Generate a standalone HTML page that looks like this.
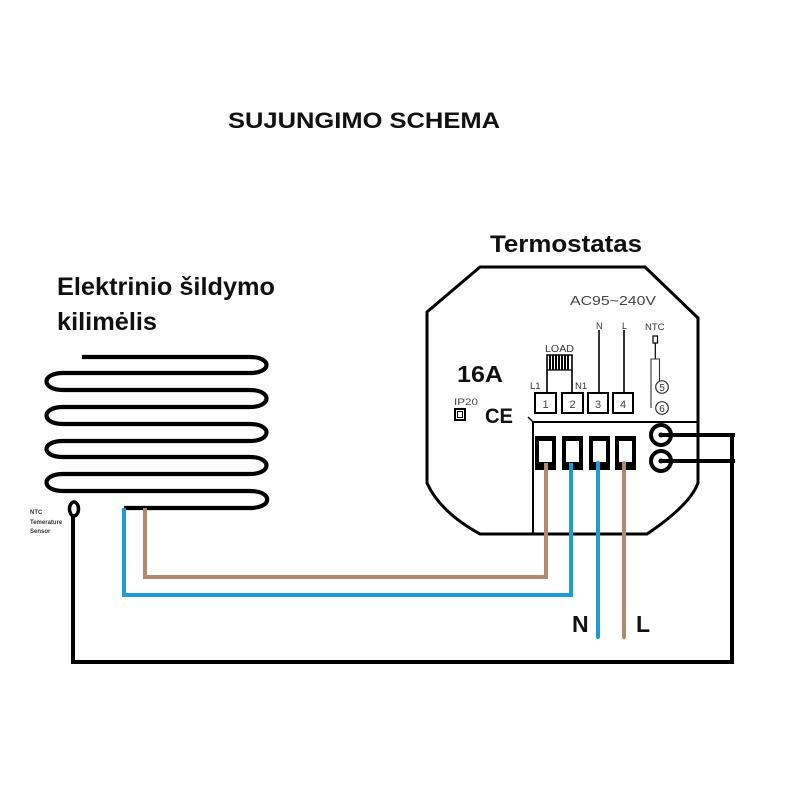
<!DOCTYPE html>
<html>
<head>
<meta charset="utf-8">
<style>
  html, body { margin: 0; padding: 0; background: #fff; }
  svg { display: block; }
  .t { font-family: "Liberation Sans", Arial, sans-serif; }
</style>
</head>
<body>
<svg width="800" height="800" viewBox="0 0 800 800" xmlns="http://www.w3.org/2000/svg">
  <rect width="800" height="800" fill="#fff"/>

  <!-- Titles -->
  <text class="t" x="228" y="128" font-size="22" font-weight="bold" fill="#111" textLength="272" lengthAdjust="spacingAndGlyphs">SUJUNGIMO SCHEMA</text>
  <text class="t" x="490" y="252" font-size="24" font-weight="bold" fill="#111" textLength="152" lengthAdjust="spacingAndGlyphs">Termostatas</text>
  <text class="t" x="57" y="295" font-size="25" font-weight="bold" fill="#111" textLength="218" lengthAdjust="spacingAndGlyphs">Elektrinio šildymo</text>
  <text class="t" x="57" y="330" font-size="25" font-weight="bold" fill="#111" textLength="100" lengthAdjust="spacingAndGlyphs">kilimėlis</text>

  <!-- Heating mat -->
  <path d="M 82 357 H 250 C 272 357 272 373 250 373 H 63 C 41 373 41 390 63 390 H 250 C 272 390 272 407 250 407 H 63 C 41 407 41 424 63 424 H 250 C 272 424 272 441 250 441 H 63 C 41 441 41 457 63 457 H 250 C 272 457 272 474 250 474 H 63 C 41 474 41 491 63 491 H 250 C 273 491 273 508 250 508 H 124"
        fill="none" stroke="#000" stroke-width="4.2" stroke-linejoin="round"/>

  <!-- NTC sensor on mat -->
  <ellipse cx="74" cy="509" rx="4.5" ry="7" fill="none" stroke="#000" stroke-width="3.5"/>
  <text class="t" x="30" y="514" font-size="6" font-weight="bold" fill="#333">NTC</text>
  <text class="t" x="30" y="524" font-size="6" font-weight="bold" fill="#333">Temerature</text>
  <text class="t" x="30" y="533" font-size="6" font-weight="bold" fill="#333">Sensor</text>

  <!-- Black NTC loop wire -->
  <path d="M 73 516 V 662 H 732 V 435" fill="none" stroke="#000" stroke-width="4"/>
  <path d="M 661 435 H 732 M 661 461 H 732" fill="none" stroke="#000" stroke-width="4"/>

  <!-- Thermostat body -->
  <path d="M 480 267 L 645 267 L 698 318 L 698 483 Q 690 505 647 534 L 480 534 Q 440 512 427 483 L 427 312 Z"
        fill="none" stroke="#000" stroke-width="3"/>

  <!-- AC label -->
  <text class="t" x="570" y="305" font-size="13" fill="#444" textLength="86" lengthAdjust="spacingAndGlyphs">AC95~240V</text>

  <!-- N / L terminal labels -->
  <text class="t" x="596" y="329" font-size="9" fill="#333">N</text>
  <text class="t" x="622" y="329" font-size="9" fill="#333">L</text>
  <line x1="599" y1="330" x2="599" y2="393" stroke="#000" stroke-width="1.6"/>
  <line x1="624" y1="330" x2="624" y2="393" stroke="#000" stroke-width="1.6"/>

  <!-- NTC terminals -->
  <text class="t" x="645" y="330" font-size="9.5" fill="#333">NTC</text>
  <rect x="653" y="336" width="4.5" height="7" fill="none" stroke="#000" stroke-width="1.2"/>
  <line x1="655.3" y1="343" x2="655.3" y2="359" stroke="#000" stroke-width="1.2"/>
  <path d="M 651 408 V 359 H 659.5 V 381" fill="none" stroke="#333" stroke-width="1.1"/>
  <circle cx="662" cy="387" r="6.3" fill="#fff" stroke="#333" stroke-width="1.2"/>
  <circle cx="662" cy="408" r="6.3" fill="#fff" stroke="#333" stroke-width="1.2"/>
  <text class="t" x="662" y="391" font-size="10" fill="#333" text-anchor="middle">5</text>
  <text class="t" x="662" y="412" font-size="10" fill="#333" text-anchor="middle">6</text>

  <!-- LOAD -->
  <text class="t" x="545" y="352" font-size="10" fill="#333" textLength="29" lengthAdjust="spacingAndGlyphs">LOAD</text>
  <path d="M 547 393 V 355 H 572 V 393" fill="none" stroke="#000" stroke-width="1.6"/>
  <path d="M 550 355 V 370 M 553 355 V 370 M 556 355 V 370 M 559 355 V 370 M 562 355 V 370 M 565 355 V 370 M 568 355 V 370" stroke="#000" stroke-width="2"/>
  <line x1="547" y1="370" x2="572" y2="370" stroke="#000" stroke-width="1.2"/>
  <text class="t" x="530" y="389" font-size="9.5" fill="#333">L1</text>
  <text class="t" x="575" y="389" font-size="9.5" fill="#333">N1</text>

  <!-- Terminals 1-4 -->
  <g fill="#fff" stroke="#000" stroke-width="2">
    <rect x="535" y="393" width="21" height="20"/>
    <rect x="562" y="393" width="21" height="20"/>
    <rect x="588" y="393" width="20" height="20"/>
    <rect x="613" y="393" width="20" height="20"/>
  </g>
  <g class="t" font-size="11" fill="#444" text-anchor="middle" font-family="Liberation Sans, sans-serif">
    <text x="545.5" y="408">1</text>
    <text x="572.5" y="408">2</text>
    <text x="598" y="408">3</text>
    <text x="623" y="408">4</text>
  </g>

  <!-- 16A, IP20, CE -->
  <text class="t" x="457" y="382" font-size="23" font-weight="bold" fill="#111" textLength="46" lengthAdjust="spacingAndGlyphs">16A</text>
  <text class="t" x="454" y="405" font-size="9" fill="#444" textLength="24" lengthAdjust="spacingAndGlyphs">IP20</text>
  <rect x="455" y="409" width="10" height="11" fill="none" stroke="#000" stroke-width="2"/>
  <rect x="457.5" y="411.5" width="5" height="6" fill="none" stroke="#000" stroke-width="1"/>
  <text class="t" x="485" y="423" font-size="21" font-weight="bold" fill="#111" textLength="28" lengthAdjust="spacingAndGlyphs">CE</text>

  <!-- Inner frame lines -->
  <path d="M 533 535 V 422 H 698" fill="none" stroke="#000" stroke-width="2"/>
  <path d="M 528 417 L 533 422" fill="none" stroke="#000" stroke-width="1.5"/>

  <!-- Big terminal blocks -->
  <g fill="#000">
    <rect x="535" y="436" width="21" height="34"/>
    <rect x="562" y="436" width="21" height="34"/>
    <rect x="589" y="436" width="21" height="34"/>
    <rect x="615" y="436" width="21" height="34"/>
  </g>
  <g fill="#fff">
    <rect x="539" y="441" width="13" height="21"/>
    <rect x="566" y="441" width="13" height="21"/>
    <rect x="593" y="441" width="13" height="21"/>
    <rect x="619" y="441" width="13" height="21"/>
  </g>

  <!-- Circles for NTC -->
  <circle cx="661" cy="435" r="10" fill="#fff" stroke="#000" stroke-width="4"/>
  <circle cx="661" cy="461" r="10" fill="#fff" stroke="#000" stroke-width="4"/>
  <path d="M 661 435 H 735 M 661 461 H 735" fill="none" stroke="#000" stroke-width="4"/>
  <circle cx="661" cy="435" r="2.5" fill="#000"/>
  <circle cx="661" cy="461" r="2.5" fill="#000"/>

  <!-- Colored wires -->
  <path d="M 145 508 V 577 H 546 V 463" fill="none" stroke="#b2896c" stroke-width="4"/>
  <path d="M 124 508 V 595 H 571 V 463" fill="none" stroke="#1e9ad6" stroke-width="4"/>
  <path d="M 598 463 V 637" fill="none" stroke="#1e9ad6" stroke-width="4" stroke-linecap="round"/>
  <path d="M 624 463 V 637" fill="none" stroke="#b2896c" stroke-width="4" stroke-linecap="round"/>

  <!-- N / L supply labels -->
  <text class="t" x="572" y="632" font-size="23" font-weight="bold" fill="#111">N</text>
  <text class="t" x="636" y="632" font-size="23" font-weight="bold" fill="#111">L</text>
</svg>
</body>
</html>
